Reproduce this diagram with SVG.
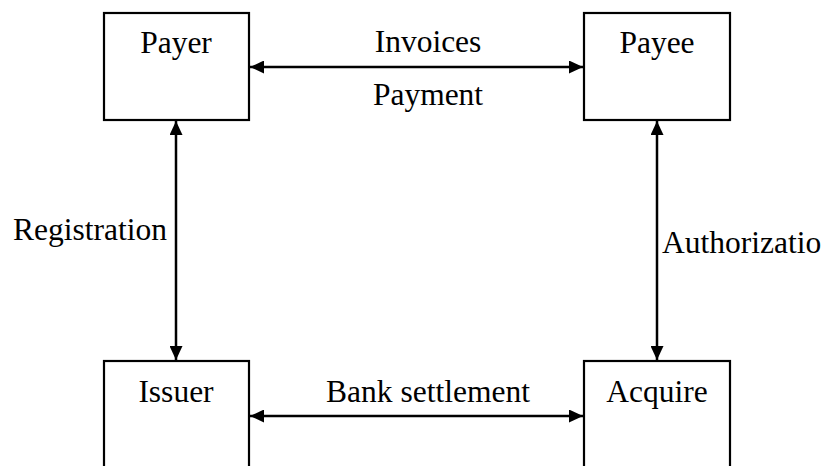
<svg xmlns="http://www.w3.org/2000/svg" width="827" height="466" viewBox="0 0 827 466">
<style>
.box{fill:#fff;stroke:#000;stroke-width:2.2}
.t{font-family:"Liberation Serif","Times New Roman",serif;font-size:31.5px;fill:#000}
.c{text-anchor:middle}
.ln{stroke:#000;stroke-width:2.5;fill:none;marker-start:url(#a);marker-end:url(#a)}
</style>
<defs>
<marker id="a" viewBox="0 0 14 13" refX="14" refY="6.5" markerWidth="14" markerHeight="13" markerUnits="userSpaceOnUse" orient="auto-start-reverse">
<path d="M0,0 L14,6.5 L0,13 Z" fill="#000"/>
</marker>
</defs>
<rect width="827" height="466" fill="#fff"/>
<g id="payer"><rect class="box" x="104" y="13" width="145" height="107"/><text class="t c" x="176" y="53">Payer</text></g>
<g id="payee"><rect class="box" x="584" y="13" width="146" height="107"/><text class="t c" x="657" y="53">Payee</text></g>
<g id="issuer"><rect class="box" x="104" y="361" width="145" height="120"/><text class="t c" x="176" y="402">Issuer</text></g>
<g id="acquire"><rect class="box" x="584" y="361" width="146" height="120"/><text class="t c" x="657" y="402">Acquire</text></g>
<g id="connectors">
<line class="ln" x1="250" y1="67" x2="583" y2="67"/>
<line class="ln" x1="250" y1="416" x2="583" y2="416"/>
<line class="ln" x1="176" y1="121" x2="176" y2="360"/>
<line class="ln" x1="657" y1="121" x2="657" y2="360"/>
<text class="t c" x="428" y="52">Invoices</text>
<text class="t c" x="428" y="105">Payment</text>
<text class="t c" x="428" y="402">Bank settlement</text>
<text class="t" x="13" y="240">Registration</text>
<text class="t" x="662" y="253">Authorizatio</text>
</g>
</svg>
